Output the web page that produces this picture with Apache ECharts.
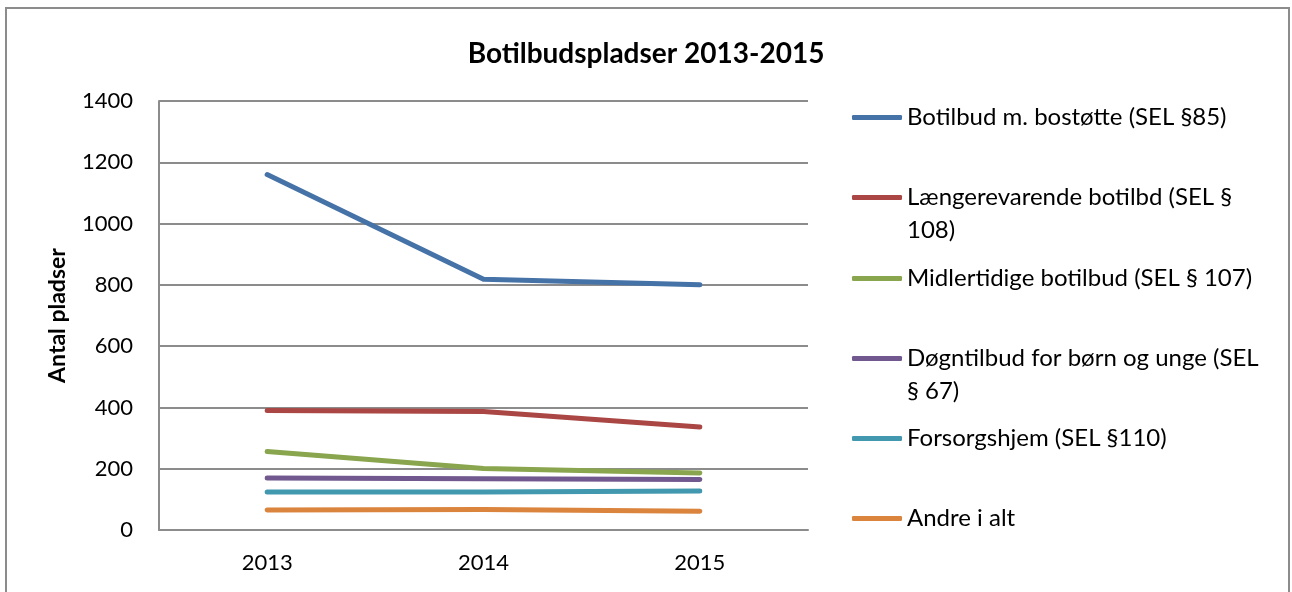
<!DOCTYPE html>
<html>
<head>
<meta charset="utf-8">
<script src="https://cdn.jsdelivr.net/npm/echarts@6/dist/echarts.min.js"></script>
<style>
  html, body { margin: 0; padding: 0; background: #fff; }
  #main { width: 1292px; height: 592px; }
</style>
</head>
<body>
<div id="main"></div>
<script>
// data
const years = ["2013", "2014", "2015"];
const seriesNames = [
  "Botilbud m. bostøtte (SEL §85)",
  "Længerevarende botilbd (SEL §\n108)",
  "Midlertidige botilbud (SEL § 107)",
  "Døgntilbud for børn og unge (SEL\n§ 67)",
  "Forsorgshjem (SEL §110)",
  "Andre i alt"
];
const botilbud85 = [1160, 818, 800];
const laengere108 = [390, 387, 336];
const midlertidige107 = [256, 201, 186];
const doegn67 = [170, 167, 165];
const forsorg110 = [124, 124, 127];
const andre = [65, 67, 61];
const yTicks = [0, 200, 400, 600, 800, 1000, 1200, 1400];

const colors = ["#4572A7", "#AA4643", "#89A54E", "#71588F", "#4198AF", "#DB843D"];
const allValues = [botilbud85, laengere108, midlertidige107, doegn67, forsorg110, andre];
const font = "Lato, 'Open Sans', sans-serif";
const legendFontSize = 24;

const chart = echarts.init(document.getElementById("main"));

// legend, one per item so the spacing matches (icon sits on the first line)
const legendCenters = [117, 197, 278, 358, 438, 518];
const legends = seriesNames.map(function (name, i) {
  return {
    orient: "vertical",
    left: 852,
    top: legendCenters[i] - 16,
    padding: 0,
    icon: "roundRect",
    itemWidth: 50,
    itemHeight: 5,
    selectedMode: false,
    data: [{ name: name, itemStyle: { color: colors[i] } }],
    formatter: function (n) { return n.split("\n")[0]; },
    textStyle: { fontFamily: font, fontSize: legendFontSize, color: "#000", lineHeight: 33 }
  };
});

// wrapped second lines of the long legend names
const wrapTexts = [];
seriesNames.forEach(function (name, i) {
  const parts = name.split("\n");
  if (parts.length > 1) {
    wrapTexts.push({
      type: "text",
      left: 907,
      top: legendCenters[i] + 33 - 16,
      silent: true,
      style: {
        text: parts[1],
        font: legendFontSize + "px " + font,
        fill: "#000",
        lineHeight: 33,
        verticalAlign: "top"
      }
    });
  }
});

const option = {
  animation: false,
  title: {
    text: "Botilbudspladser 2013-2015",
    left: "center",
    top: 35,
    textStyle: { fontFamily: font, fontSize: 28, fontWeight: "bold", color: "#000" }
  },
  legend: legends,
  grid: { left: 159, right: 484, top: 101, bottom: 62 },
  xAxis: {
    type: "category",
    data: years,
    axisLine: { lineStyle: { color: "#8c8c8c", width: 2 } },
    axisTick: { show: false },
    axisLabel: { fontFamily: font, fontSize: 22, color: "#000", margin: 22 }
  },
  yAxis: {
    type: "value",
    min: yTicks[0],
    max: yTicks[yTicks.length - 1],
    interval: 200,
    name: "Antal pladser",
    nameLocation: "middle",
    nameRotate: 90,
    nameGap: 90,
    nameTextStyle: { fontFamily: font, fontSize: 23, fontWeight: "bold", color: "#000" },
    axisLine: { show: true, lineStyle: { color: "#8c8c8c", width: 2 } },
    axisTick: { show: false },
    splitLine: { lineStyle: { color: "#8c8c8c", width: 2 } },
    axisLabel: {
      fontFamily: font, fontSize: 22, color: "#000", margin: 26,
      formatter: function (v) { return String(v); }
    }
  },
  series: seriesNames.map(function (name, i) {
    return {
      name: name,
      type: "line",
      data: allValues[i],
      symbol: "none",
      color: colors[i],
      lineStyle: { width: 5, color: colors[i], cap: "round", join: "round" }
    };
  }),
  graphic: [
    {
      type: "rect",
      shape: { x: 6, y: 8, width: 1283, height: 600 },
      style: { fill: null, stroke: "#8c8c8c", lineWidth: 2 },
      silent: true
    }
  ].concat(wrapTexts)
};

chart.setOption(option);
</script>
</body>
</html>
